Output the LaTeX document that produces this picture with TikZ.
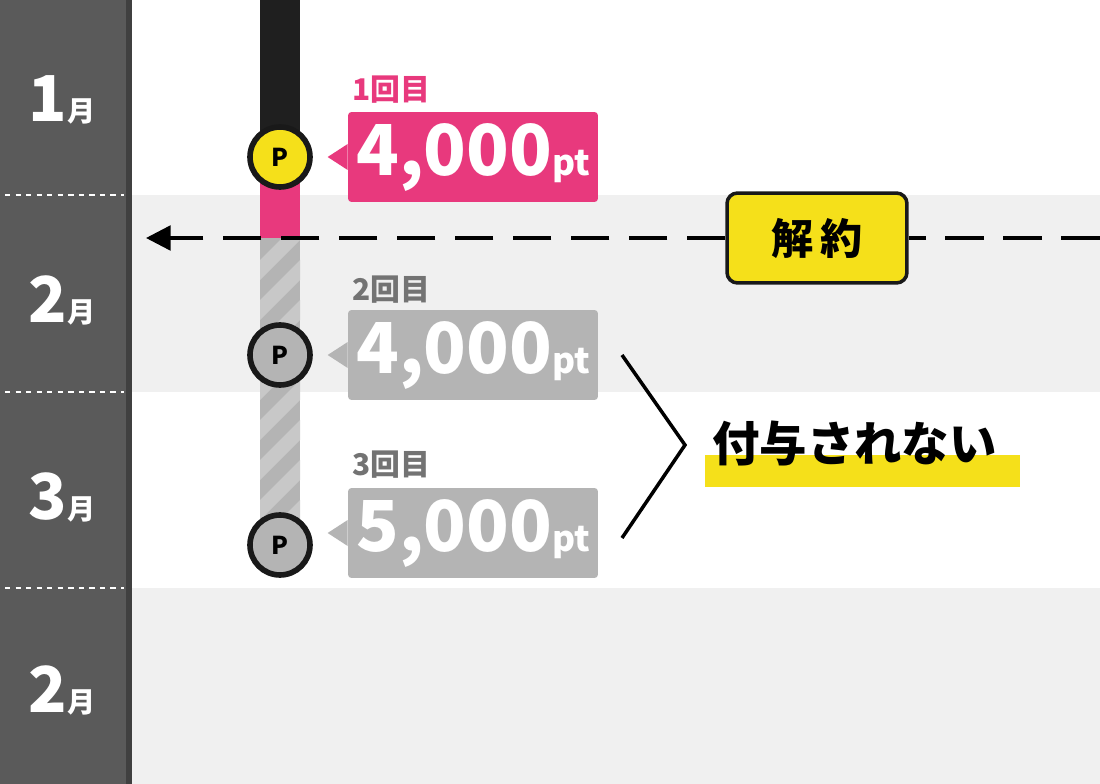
\documentclass[tikz,border=0pt]{standalone}
\usepackage{fontspec}
\setmainfont{Noto Sans CJK JP}[BoldFont={* Black}]
\usetikzlibrary{arrows.meta,positioning,shapes.geometric}
\definecolor{sidegray}{HTML}{5A5A5A}
\definecolor{rowgray}{HTML}{F0F0F0}
\definecolor{ptpink}{HTML}{E8397D}
\definecolor{offgray}{HTML}{B4B4B4}
\definecolor{hatchgray}{HTML}{C8C8C8}
\definecolor{markyellow}{HTML}{F5E01A}
\begin{document}
\begin{tikzpicture}[x=0.02cm, y=-0.02cm,
    month/.style={text=white, font=\bfseries\fontsize{36}{36}\selectfont},
    pcircle/.style={circle, draw=black!90, line width=3.2pt, minimum size=1.2cm, inner sep=0pt, font=\bfseries\fontsize{14}{14}\selectfont},
    ptbox/.style={rectangle, rounded corners=2pt, minimum width=5cm, minimum height=1.8cm, text=white, font=\bfseries\fontsize{40}{40}\selectfont},
    count/.style={font=\bfseries\fontsize{17}{17}\selectfont, anchor=west}
]
    \useasboundingbox (0,0) rectangle (1100,784);
    % background rows
    \fill[white] (0,0) rectangle (1100,784);
    \fill[rowgray] (130,195) rectangle (1100,392);
    \fill[rowgray] (130,588) rectangle (1100,784);
    \fill[sidegray] (0,0) rectangle (128,784);
    \fill[black!75] (126,0) rectangle (132,784);
    \foreach \yy in {195,392,588}
        \draw[white, dashed, line width=0.8pt] (5,\yy) -- (124,\yy);

    % months
    \node[month] (m1) at (62,100) {1\fontsize{16}{16}\selectfont 月};
    \node[month] (m2) at (62,300) {2\fontsize{16}{16}\selectfont 月};
    \node[month] (m3) at (62,497) {3\fontsize{16}{16}\selectfont 月};
    \node[month] (m4) at (62,690) {2\fontsize{16}{16}\selectfont 月};

    % timeline
    \fill[black!88] (260,0) rectangle (300,157);
    \fill[ptpink] (260,157) rectangle (300,238);
    \fill[offgray] (260,238) rectangle (300,545);
    \begin{scope}
        \clip (260,238) rectangle (300,545);
        \foreach \k in {0,...,9}
            \fill[hatchgray] (260,260+\k*40) -- (300,220+\k*40) -- (300,240+\k*40) -- (260,280+\k*40) -- cycle;
    \end{scope}

    % points
    \node[pcircle, fill=markyellow] (p1) at (280,157) {P};
    \node[pcircle, fill=offgray] (p2) at (280,355) {P};
    \node[pcircle, fill=offgray] (p3) at (280,545) {P};

    \node[ptbox, fill=ptpink] (b1) at (473,157) {4,000\fontsize{20}{20}\selectfont pt};
    \node[ptbox, fill=offgray] (b2) at (473,355) {4,000\fontsize{20}{20}\selectfont pt};
    \node[ptbox, fill=offgray] (b3) at (473,533) {5,000\fontsize{20}{20}\selectfont pt};
    \fill[ptpink] (b1.west) ++(0,-13) -- ++(-20,13) -- ++(20,13) -- cycle;
    \fill[offgray] (b2.west) ++(0,-13) -- ++(-20,13) -- ++(20,13) -- cycle;
    \fill[offgray] (b3.west) ++(0,-13) -- ++(-20,13) -- ++(20,13) -- cycle;

    \node[count, text=ptpink] (c1) at (346,90) {1回目};
    \node[count, text=black!55] (c2) at (346,290) {2回目};
    \node[count, text=black!55] (c3) at (346,465) {3回目};

    % cancel
    \node[rectangle, rounded corners=6pt, draw=black!90, line width=2pt, fill=markyellow,
          minimum width=3.6cm, minimum height=1.8cm, font=\bfseries\fontsize{24}{24}\selectfont] (cancel) at (817,238) {解\,約};
    \coordinate (rightend) at (1100,238);
    \coordinate (leftend) at (146,238);
    \draw[dashed, dash pattern=on 22pt off 11pt, line width=2pt] (rightend) -- (cancel.east);
    \draw[dashed, dash pattern=on 22pt off 11pt, line width=2pt, -{Triangle[length=14pt,width=14pt]}] (cancel.west) -- (leftend);

    % not granted
    \coordinate (bt) at (622,355);
    \coordinate (bm) at (685,445);
    \coordinate (bb) at (622,538);
    \draw[line width=2pt] (bt) -- (bm) -- (bb);
    \fill[markyellow] (705,455) rectangle (1020,487);
    \node[font=\bfseries\fontsize{27}{27}\selectfont, anchor=west] (nogrant) at (706,443) {付与されない};
\end{tikzpicture}
\end{document}
